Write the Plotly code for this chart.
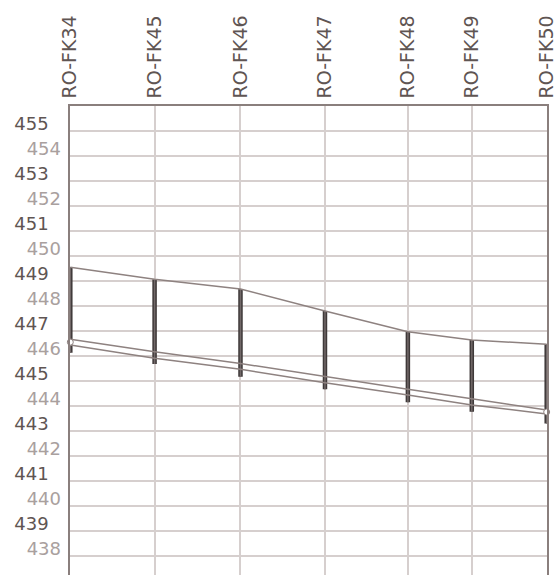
import plotly.graph_objects as go

# ---- data ----
stations = ["RO-FK34", "RO-FK45", "RO-FK46", "RO-FK47", "RO-FK48", "RO-FK49", "RO-FK50"]
chainage = [0, 84.4, 170.4, 255, 338, 402, 477]
terrain = [449.55, 449.07, 448.68, 447.80, 446.97, 446.64, 446.47]
pipe_top = [446.67, 446.17, 445.70, 445.17, 444.67, 444.29, 443.84]
pipe_bottom = [446.44, 445.91, 445.47, 444.93, 444.44, 444.04, 443.68]
shaft_bottom = [446.13, 445.68, 445.17, 444.67, 444.15, 443.77, 443.30]
odd_ticks = [439, 441, 443, 445, 447, 449, 451, 453, 455]
even_ticks = [438, 440, 442, 444, 446, 448, 450, 452, 454]

DARK = "#5f5553"
LIGHT = "#a9a09e"
GRID = "#d6cfce"
AXIS = "#8a7f7d"
LINE = "#8e8280"
FONT = "DejaVu Sans, sans-serif"

fig = go.Figure()

# shafts (vertical bars)
bx, by = [], []
for x, t, b in zip(chainage, terrain, shaft_bottom):
    bx += [x, x, None]
    by += [t, b, None]
fig.add_trace(go.Scatter(x=bx, y=by, mode="lines", line=dict(color="#3f3939", width=4.5),
                         hoverinfo="skip", showlegend=False, cliponaxis=False))
fig.add_trace(go.Scatter(x=bx, y=by, mode="lines", line=dict(color="#716868", width=1.5),
                         hoverinfo="skip", showlegend=False, cliponaxis=False))

# terrain and pipe lines
for ys in (terrain, pipe_top, pipe_bottom):
    fig.add_trace(go.Scatter(x=chainage, y=ys, mode="lines", line=dict(color=LINE, width=1.5),
                             showlegend=False, cliponaxis=False))

# end markers
ends = [0, len(chainage) - 1]
fig.add_trace(go.Scatter(
    x=[chainage[i] for i in ends],
    y=[(pipe_top[i] + pipe_bottom[i]) / 2 for i in ends],
    mode="markers", marker=dict(size=6, color="white", line=dict(color=LINE, width=1)),
    showlegend=False, cliponaxis=False))

# dummy trace for secondary label axis
fig.add_trace(go.Scatter(x=chainage, y=terrain, yaxis="y2", mode="lines",
                         line=dict(width=0), opacity=0, hoverinfo="skip", showlegend=False))

yr = [437.24, 456]
all_ticks = sorted(odd_ticks + even_ticks)
fig.update_layout(
    width=556, height=575,
    margin=dict(l=70, r=8.5, t=106, b=0),
    plot_bgcolor="white", paper_bgcolor="white",
    font=dict(family=FONT),
    xaxis=dict(
        side="top", range=[-0.3, 477.3], tickmode="array", tickvals=chainage, ticktext=stations,
        tickangle=-90, tickfont=dict(size=19, color=DARK), showgrid=True, gridcolor=GRID,
        gridwidth=1.5, showline=True, linecolor=AXIS, linewidth=1.5, zeroline=False,
        ticks="", ticklabelstandoff=2, automargin=False, ticklabeloverflow="allow",
    ),
    yaxis=dict(
        range=yr, tickmode="array", tickvals=all_ticks,
        ticktext=[str(v) if v in odd_ticks else "" for v in all_ticks],
        tickfont=dict(size=18, color=DARK), showgrid=True, gridcolor=GRID, gridwidth=1.5,
        showline=True, linecolor=AXIS, linewidth=1.5, mirror=True, zeroline=False,
        ticks="", ticklabelstandoff=16, ticklabelshift=-7, automargin=False,
        ticklabeloverflow="allow",
    ),
    yaxis2=dict(
        overlaying="y", side="left", anchor="x", range=yr, tickmode="array",
        tickvals=even_ticks, ticktext=[str(v) for v in even_ticks],
        tickfont=dict(size=18, color=LIGHT), showgrid=False, zeroline=False,
        showline=False, ticks="", ticklabelstandoff=8, ticklabelshift=-7, automargin=False,
        ticklabeloverflow="allow",
    ),
)

fig.write_html(
    "out.html",
    config={"displayModeBar": False},
    post_script="document.body.style.margin='0';document.body.style.overflow='hidden';",
)
